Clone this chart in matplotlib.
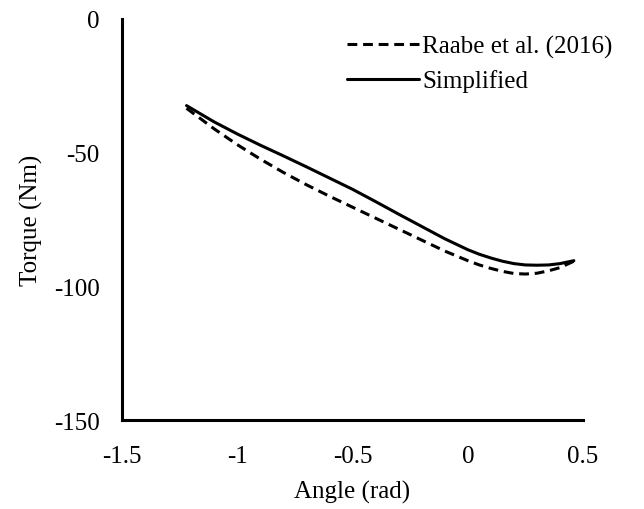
import matplotlib

matplotlib.use("Agg")
import matplotlib.pyplot as plt

plt.rcParams["font.family"] = ["Liberation Serif", "DejaVu Serif"]
plt.rcParams["axes.unicode_minus"] = False

angle = [-1.22, -1.1, -1.0, -0.9, -0.8, -0.7, -0.6, -0.5, -0.4, -0.3,
         -0.2, -0.1, 0.0, 0.05, 0.1, 0.15, 0.2, 0.25, 0.3, 0.35, 0.4, 0.46]
torque_raabe = [-33.4, -41.1, -47.0, -52.4, -57.4, -62.0, -66.3, -70.4, -74.5, -78.6,
                -82.7, -86.8, -90.4, -92.0, -93.3, -94.4, -95.2, -95.4, -95.1, -94.2,
                -93.0, -90.6]
torque_simplified = [-32.4, -38.5, -43.0, -47.2, -51.2, -55.3, -59.5, -63.7, -68.3, -73.0,
                     -77.6, -82.2, -86.3, -88.0, -89.4, -90.6, -91.5, -92.0, -92.1, -92.0,
                     -91.5, -90.4]

x_ticks = [-1.5, -1, -0.5, 0, 0.5]
x_labels = ["-1.5", "-1", "-0.5", "0", "0.5"]
y_ticks = [-150, -100, -50, 0]

fig = plt.figure(figsize=(6.44, 5.10), dpi=100)
ax = fig.add_axes([0.1894, 0.1745, 0.716, 0.7863])

ax.plot(angle, torque_raabe, color="black", linewidth=2.2, linestyle=(0, (3.2, 1.9)),
        label="Raabe et al. (2016)")
ax.plot(angle, torque_simplified, color="black", linewidth=2.2, solid_capstyle="round",
        solid_joinstyle="round", label="Simplified")

ax.set_xlim(-1.5, 0.5)
ax.set_ylim(-150, 0)
ax.set_xticks(x_ticks)
ax.set_xticklabels(x_labels)
ax.set_yticks(y_ticks)
ax.tick_params(axis="y", length=0, labelsize=18, pad=16)
ax.tick_params(axis="x", length=0, labelsize=18, pad=18)
for side in ("top", "right"):
    ax.spines[side].set_visible(False)
for side in ("left", "bottom"):
    ax.spines[side].set_linewidth(2.2)

ax.set_xlabel("Angle (rad)", fontsize=18, labelpad=9)
ax.set_ylabel("Torque (Nm)", fontsize=18, labelpad=8)

ax.legend(loc="upper right", bbox_to_anchor=(1.085, 0.985), frameon=False, fontsize=18,
          handlelength=2.9, handletextpad=0.1, labelspacing=0.45, borderaxespad=0)

fig.savefig("out.png", dpi=100)
